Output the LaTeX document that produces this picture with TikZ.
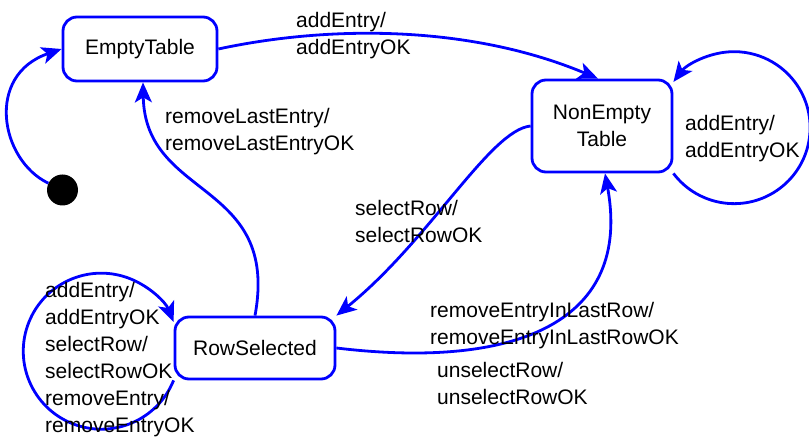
\documentclass[tikz,border=0pt]{standalone}
\usepackage{fontspec}
\setmainfont{Liberation Sans}
\usetikzlibrary{arrows.meta}
\newcommand{\diaglblfont}{\fontsize{21}{27}\selectfont}
\begin{document}
\begin{tikzpicture}[x=1pt,y=-1pt,
  state/.style={draw=blue, line width=2.8pt, rounded corners=14pt, align=center, inner sep=0pt, font=\diaglblfont},
  lbl/.style={anchor=north west, align=left, inner sep=0pt, font=\diaglblfont},
  trans/.style={draw=blue, line width=2.8pt, line join=round, -{Stealth[length=20pt,width=17pt,inset=5pt]}}]
\useasboundingbox (0,0) rectangle (809,443);
% states
\node[state, minimum width=154pt, minimum height=64pt] (et) at (140,49) {EmptyTable};
\node[state, minimum width=140pt, minimum height=92pt] (ne) at (602,126) {NonEmpty\\Table};
\node[state, minimum width=160pt, minimum height=62pt] (rs) at (255,348) {RowSelected};
\node[circle, fill=black, minimum size=31pt, inner sep=0pt] (init) at (62.5,190) {};
% transitions
\draw[trans] (init) .. controls (0,160) and (-15,75) .. (et.west);
\draw[trans] (et.east) .. controls (330,25) and (470,25) .. ([xshift=-4pt]ne.north);
\draw[trans] (ne.south east) arc[start angle=143, end angle=-143, radius=76];
\draw[trans] (ne.west) .. controls (490,130) and (430,240) .. (rs.north east);
\draw[trans] (rs.east) .. controls (520,370) and (632,320) .. ([xshift=3pt]ne.south);
\draw[trans] (rs.north) .. controls (280,180) and (145,200) .. ([xshift=3pt]et.south);
\draw[trans] (rs.south west) arc[start angle=22, end angle=338, radius=78];
% labels
\node[lbl] (l1) at (296,12) {addEntry/\\addEntryOK};
\node[lbl] (l2) at (685,115) {addEntry/\\addEntryOK};
\node[lbl] (l3) at (165,108) {removeLastEntry/\\removeLastEntryOK};
\node[lbl] (l4) at (355,200) {selectRow/\\selectRowOK};
\node[lbl] (l5) at (430,302) {removeEntryInLastRow/\\removeEntryInLastRowOK};
\node[lbl] (l6) at (437,362) {unselectRow/\\unselectRowOK};
\node[lbl] (l7) at (45,282) {addEntry/\\addEntryOK\\selectRow/\\selectRowOK\\removeEntry/\\removeEntryOK};
\end{tikzpicture}
\end{document}
